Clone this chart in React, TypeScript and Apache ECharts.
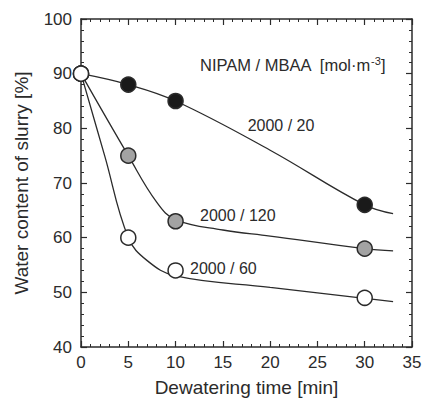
import React, { useEffect, useRef } from "react";
import * as echarts from "echarts";

// Measured points
const times = [0, 5, 10, 30];
const s20 = [90, 88, 85, 66];
const s120 = [90, 75, 63, 58];
const s60 = [90, 60, 54, 49];

// Fitted curves [time, value]
const fit20: [number, number][] = [
  [0, 90], [5, 88], [10, 85], [20, 76], [30, 66], [33, 64.4],
];
const fit120: [number, number][] = [
  [0, 90], [5, 75], [8, 66.5], [10, 63.3], [15, 61.4], [20, 60.3], [30, 58], [33, 57.6],
];
const fit60: [number, number][] = [
  [0, 90], [2.5, 75], [5, 60], [7, 55.8], [10, 53], [20, 50.9], [30, 48.9], [33, 48.3],
];

const xTicks = [0, 5, 10, 15, 20, 25, 30, 35];
const yTicks = [40, 50, 60, 70, 80, 90, 100];

const FONT = "'Liberation Sans', Arial, sans-serif";
const INK = "#2b2b2b";

export default function App() {
  const ref = useRef<HTMLDivElement>(null);
  useEffect(() => {
    document.body.style.margin = "0";
    const chart = echarts.init(ref.current!, null, { renderer: "svg" });
    const tickCommon = {
      axisLine: { show: true, onZero: false, lineStyle: { color: INK, width: 1.5 } },
      axisTick: { show: true, inside: true, length: 6, lineStyle: { color: INK, width: 1.2 } },
      minorTick: { show: true, splitNumber: 5, length: 3, lineStyle: { color: INK, width: 1 } },
      splitLine: { show: false },
      minorSplitLine: { show: false },
    };
    const xBase = { type: "value", min: xTicks[0], max: xTicks[xTicks.length - 1], interval: 5, ...tickCommon };
    const yBase = { type: "value", min: yTicks[0], max: yTicks[yTicks.length - 1], interval: 10, ...tickCommon };
    const lineSeries = (data: [number, number][]) => ({
      type: "line",
      data,
      smooth: 0.4,
      showSymbol: false,
      symbol: "none",
      lineStyle: { color: INK, width: 1.3 },
      z: 2,
      silent: true,
    });
    const dotSeries = (vals: number[], fill: string) => ({
      type: "scatter",
      data: times.map((t, i) => [t, vals[i]]),
      symbol: "circle",
      symbolSize: 15,
      itemStyle: { color: fill, borderColor: INK, borderWidth: 1.5, opacity: 1 },
      z: 5,
    });
    chart.setOption({
      animation: false,
      backgroundColor: "#fff",
      grid: { left: 81, right: 13, top: 19, bottom: 56 },
      xAxis: [
        {
          ...xBase,
          position: "bottom",
          name: "Dewatering time [min]",
          nameLocation: "middle",
          nameGap: 31,
          nameTextStyle: { fontFamily: FONT, fontSize: 19, color: INK },
          axisLabel: { fontFamily: FONT, fontSize: 17, color: INK, margin: 7 },
        },
        { ...xBase, position: "top", axisLabel: { show: false } },
      ],
      yAxis: [
        {
          ...yBase,
          position: "left",
          name: "Water content of slurry [%]",
          nameLocation: "middle",
          nameGap: 50,
          nameRotate: 90,
          nameTextStyle: { fontFamily: FONT, fontSize: 19, color: INK },
          axisLabel: { fontFamily: FONT, fontSize: 17, color: INK, margin: 9 },
        },
        { ...yBase, position: "right", axisLabel: { show: false } },
      ],
      series: [
        lineSeries(fit20),
        lineSeries(fit120),
        lineSeries(fit60),
        dotSeries(s20, "#1a1a1a"),
        dotSeries(s120, "#a3a3a3"),
        dotSeries(s60, "#ffffff"),
      ],
      graphic: [
        {
          type: "text",
          x: 200,
          y: 65,
          style: {
            text: "NIPAM / MBAA  [mol·m{sup|-3}]",
            fontFamily: FONT,
            fontSize: 16.5,
            fill: INK,
            verticalAlign: "middle",
            rich: { sup: { fontFamily: FONT, fontSize: 11, fill: INK, verticalAlign: "bottom", padding: [0, 0, 8, 0] } },
          },
        },
        { type: "text", x: 281, y: 125, style: { text: "2000 / 20", fontFamily: FONT, fontSize: 16, fill: INK, align: "center", verticalAlign: "middle" } },
        { type: "text", x: 200, y: 215, style: { text: "2000 / 120", fontFamily: FONT, fontSize: 16, fill: INK, verticalAlign: "middle" } },
        { type: "text", x: 190, y: 268, style: { text: "2000 / 60", fontFamily: FONT, fontSize: 16, fill: INK, verticalAlign: "middle" } },
      ],
    });
    return () => chart.dispose();
  }, []);
  return <div ref={ref} style={{ width: 425, height: 403 }} />;
}
